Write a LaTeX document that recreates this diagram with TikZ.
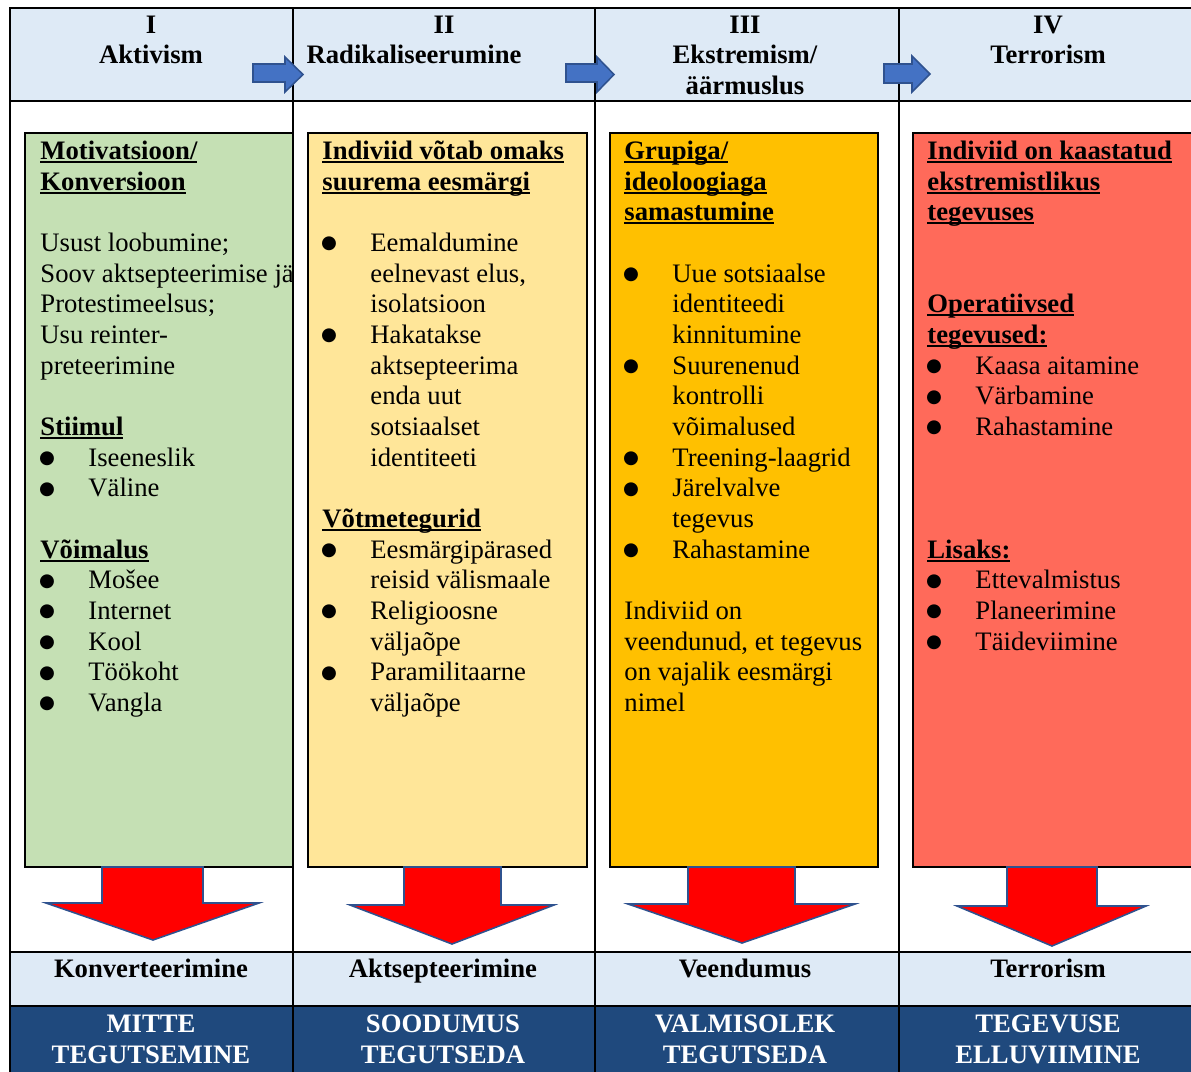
\documentclass[tikz,border=0pt]{standalone}
\usepackage{fontspec}
\setmainfont{Liberation Serif}
\newfontfamily\dejavu{DejaVu Sans}
\definecolor{hdr}{HTML}{DEEAF6}
\definecolor{boxgreen}{HTML}{C5E0B4}
\definecolor{boxyellow}{HTML}{FFE699}
\definecolor{boxorange}{HTML}{FFC000}
\definecolor{boxred}{HTML}{FF6A5A}
\definecolor{navy}{HTML}{1F497D}
\definecolor{arrowred}{HTML}{FF0000}
\definecolor{arrowblue}{HTML}{4472C4}
\definecolor{arrowedge}{HTML}{2F528F}
\newsavebox\hdbox
\newcommand\bul{\makebox[21.6pt][l]{\hspace*{-0.6pt}\raisebox{1.1pt}{\dejavu\fontsize{8.2}{8.2}\selectfont ●}}}
\newcommand\ind{\hspace*{21.6pt}}
\newcommand\hd[1]{\sbox\hdbox{\bfseries #1}\rlap{\rule[-1.6pt]{\wd\hdbox}{0.9pt}}\usebox\hdbox}
\begin{document}
\begin{tikzpicture}[x=0.45pt,y=-0.45pt,
  txt/.style={inner sep=0pt, font=\fontsize{12}{13.8}\selectfont},
  bold/.style={inner sep=0pt, font=\fontsize{12}{13.8}\selectfont\bfseries},
  white bold/.style={bold, text=white},
  col/.style={txt, anchor=north west, align=left},
  grid/.style={line width=0.9pt, draw=black},
  box/.style={line width=0.9pt, draw=black},
  redarrow/.style={fill=arrowred, draw=arrowedge, line width=0.7pt, line join=miter},
  bluearrow/.style={fill=arrowblue, draw=arrowedge, line width=0.7pt, line join=miter}]
\useasboundingbox (0,0) rectangle (1191,1071);
\clip (0,0) rectangle (1191,1071);
\fill[white] (0,0) rectangle (1191,1071);
% row fills
\fill[hdr] (9,8) rectangle (1200,101);
\fill[hdr] (9,952) rectangle (1200,1006);
\fill[navy] (9,1006) rectangle (1200,1080);
% coloured boxes
\draw[box, fill=boxgreen] (25,133) rectangle (293,867);
\draw[box, fill=boxyellow] (308,133) rectangle (587,867);
\draw[box, fill=boxorange] (610,133) rectangle (878,867);
\draw[box, fill=boxred] (913,133) rectangle (1205,867);
% grid lines
\draw[grid] (9,8) -- (1200,8);
\draw[grid] (9,101) -- (1200,101);
\draw[grid] (9,952) -- (1200,952);
\draw[grid] (9,1006) -- (1200,1006);
\draw[grid] (9.5,7.5) -- (9.5,1080);
\draw[grid] (293,7.5) -- (293,1080);
\draw[grid] (595,7.5) -- (595,1080);
\draw[grid] (898.5,7.5) -- (898.5,1080);
% header texts
\node[bold, anchor=base] (h1a) at (151,33) {I};
\node[bold, anchor=base] (h1b) at (151,63) {Aktivism};
\node[bold, anchor=base] (h2a) at (444,33) {II};
\node[bold, anchor=base] (h2b) at (414,63) {Radikaliseerumine};
\node[bold, anchor=base] (h3a) at (745,33) {III};
\node[bold, anchor=base] (h3b) at (745,63) {Ekstremism/};
\node[bold, anchor=base] (h3c) at (745,94) {äärmuslus};
\node[bold, anchor=base] (h4a) at (1048,33) {IV};
\node[bold, anchor=base] (h4b) at (1048,63) {Terrorism};
% column 1
\begin{scope}
\clip (25,133) rectangle (292,867);
\node[col] (c1) at (40,137.5) {\strut\hd{Motivatsioon/}\\
\hd{Konversioon}\\[13.8pt]
Usust loobumine;\\
Soov aktsepteerimise jä\\
Protestimeelsus;\\
Usu reinter-\\
preteerimine\\[13.8pt]
\hd{Stiimul}\\
\bul Iseeneslik\\
\bul Väline\\[13.8pt]
\hd{Võimalus}\\
\bul Mošee\\
\bul Internet\\
\bul Kool\\
\bul Töökoht\\
\bul Vangla};
\end{scope}
% column 2
\node[col] (c2) at (322,137.5) {\strut\hd{Indiviid võtab omaks}\\
\hd{suurema eesmärgi}\\[13.8pt]
\bul Eemaldumine\\
\ind eelnevast elus,\\
\ind isolatsioon\\
\bul Hakatakse\\
\ind aktsepteerima\\
\ind enda uut\\
\ind sotsiaalset\\
\ind identiteeti\\[13.8pt]
\hd{Võtmetegurid}\\
\bul Eesmärgipärased\\
\ind reisid välismaale\\
\bul Religioosne\\
\ind väljaõpe\\
\bul Paramilitaarne\\
\ind väljaõpe};
% column 3
\node[col] (c3) at (624,137.5) {\strut\hd{Grupiga/}\\
\hd{ideoloogiaga}\\
\hd{samastumine}\\[13.8pt]
\bul Uue sotsiaalse\\
\ind identiteedi\\
\ind kinnitumine\\
\bul Suurenenud\\
\ind kontrolli\\
\ind võimalused\\
\bul Treening-laagrid\\
\bul Järelvalve\\
\ind tegevus\\
\bul Rahastamine\\[13.8pt]
Indiviid on\\
veendunud, et tegevus\\
on vajalik eesmärgi\\
nimel};
% column 4
\node[col] (c4) at (927,137.5) {\strut\hd{Indiviid on kaastatud}\\
\hd{ekstremistlikus}\\
\hd{tegevuses}\\[27.6pt]
\hd{Operatiivsed}\\
\hd{tegevused:}\\
\bul Kaasa aitamine\\
\bul Värbamine\\
\bul Rahastamine\\[41.4pt]
\hd{Lisaks:}\\
\bul Ettevalmistus\\
\bul Planeerimine\\
\bul Täideviimine};
% bottom rows
\node[bold, anchor=base] (b1) at (151,977) {Konverteerimine};
\node[bold, anchor=base] (b2) at (443,977) {Aktsepteerimine};
\node[bold, anchor=base] (b3) at (745,977) {Veendumus};
\node[bold, anchor=base] (b4) at (1048,977) {Terrorism};
\node[white bold, anchor=base] (n1a) at (151,1032) {MITTE};
\node[white bold, anchor=base] (n1b) at (151,1063) {TEGUTSEMINE};
\node[white bold, anchor=base] (n2a) at (443,1032) {SOODUMUS};
\node[white bold, anchor=base] (n2b) at (443,1063) {TEGUTSEDA};
\node[white bold, anchor=base] (n3a) at (745,1032) {VALMISOLEK};
\node[white bold, anchor=base] (n3b) at (745,1063) {TEGUTSEDA};
\node[white bold, anchor=base] (n4a) at (1048,1032) {TEGEVUSE};
\node[white bold, anchor=base] (n4b) at (1048,1063) {ELLUVIIMINE};
% blue arrows in header
\draw[bluearrow] (253,64) -- (285,64) -- (285,57) -- (303,74.5) -- (285,92) -- (285,82) -- (253,82) -- cycle;
\draw[bluearrow] (566,64) -- (597,64) -- (597,57) -- (614,74.5) -- (597,92) -- (597,82) -- (566,82) -- cycle;
\draw[bluearrow] (884,64) -- (912,64) -- (912,56) -- (930,74) -- (912,92) -- (912,83) -- (884,83) -- cycle;
% red arrows
\draw[redarrow] (102,867) -- (203,867) -- (203,903) -- (259,903) -- (153,940) -- (46,903) -- (102,903) -- cycle;
\draw[redarrow] (404,867) -- (501,867) -- (501,905) -- (554,905) -- (452,944) -- (350,905) -- (404,905) -- cycle;
\draw[redarrow] (688,867) -- (795,867) -- (795,904) -- (855,904) -- (742,943) -- (628,904) -- (688,904) -- cycle;
\draw[redarrow] (1007,867) -- (1097,867) -- (1097,906) -- (1146,906) -- (1052,946) -- (957,906) -- (1007,906) -- cycle;
\end{tikzpicture}
\end{document}
